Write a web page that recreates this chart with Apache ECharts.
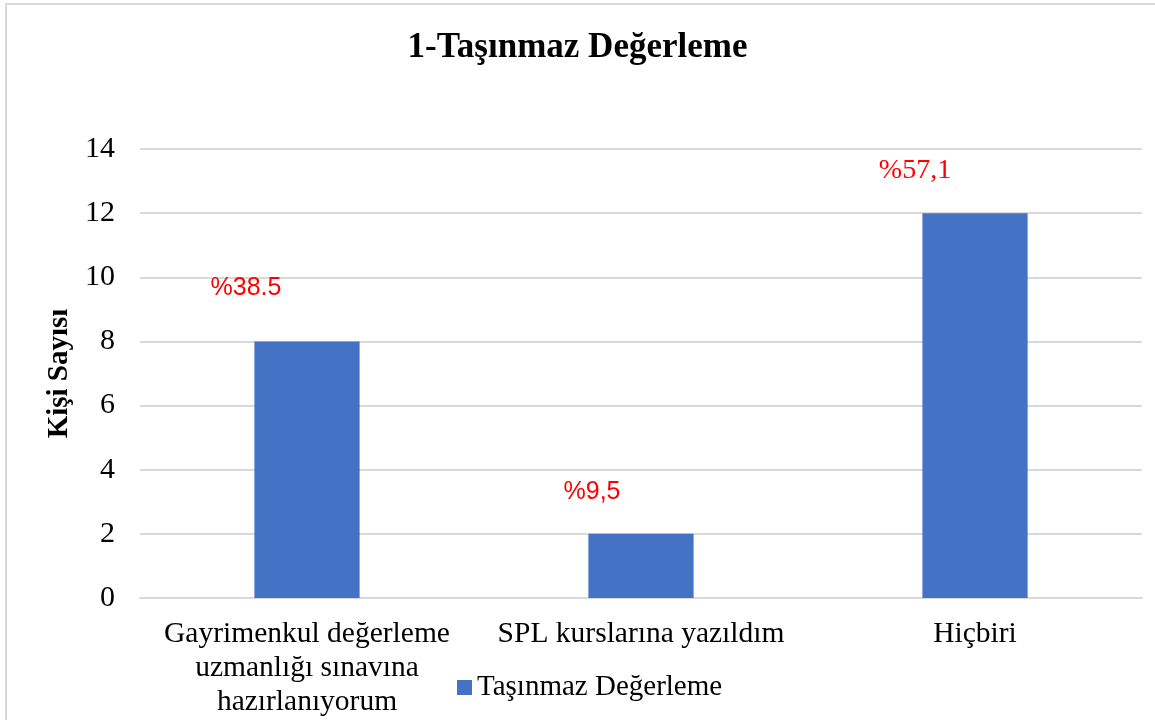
<!DOCTYPE html>
<html>
<head>
<meta charset="utf-8">
<script src="https://cdn.jsdelivr.net/npm/echarts@6/dist/echarts.min.js"></script>
<style>
  html, body { margin: 0; padding: 0; background: #fff; }
  #frame { position: absolute; left: 5px; top: 3px; width: 1160px; height: 730px; border-left: 2px solid #d9d9d9; border-top: 2px solid #d9d9d9; box-sizing: border-box; }
  #main { position: absolute; left: 0; top: 0; width: 1155px; height: 720px; }
</style>
</head>
<body>
<div id="frame"></div>
<div id="main"></div>
<script>
const categories = ['Gayrimenkul değerleme\nuzmanlığı sınavına\nhazırlanıyorum', 'SPL kurslarına yazıldım', 'Hiçbiri']
const counts = [8, 2, 12]
const percentLabels = ['%38.5', '%9,5', '%57,1']
const labelStyles = ['s', 's', 't']
const yTicks = [0, 2, 4, 6, 8, 10, 12, 14]

const serif = 'Liberation Serif'
const sans = 'Liberation Sans'

let chart = echarts.init(document.getElementById('main'))

let barData = counts.map((v, i) => ({
    value: v,
    label: {
        offset: i === 0 ? [-61, -36] : (i === 1 ? [-49, -24] : [-60, -24])
    }
}))

let option = {
    animation: false,
    title: {
        text: '1-Taşınmaz Değerleme',
        left: 'center',
        top: 25,
        textStyle: { fontFamily: serif, fontWeight: 'bold', fontSize: 35, color: '#000' }
    },
    grid: { left: 140, right: 13, top: 149, bottom: 122, containLabel: false },
    legend: {
        data: ['Taşınmaz Değerleme'],
        left: 452,
        top: 668,
        icon: 'rect',
        itemWidth: 15,
        itemHeight: 15,
        itemGap: 8,
        textStyle: { fontFamily: serif, fontSize: 29, color: '#000' }
    },
    xAxis: {
        type: 'category',
        data: categories,
        axisLine: { lineStyle: { color: '#d9d9d9', width: 2 } },
        axisTick: { show: false },
        axisLabel: {
            fontFamily: serif, fontSize: 29.5, color: '#000',
            lineHeight: 34, margin: 19, interval: 0
        }
    },
    yAxis: {
        type: 'value',
        min: 0,
        max: yTicks[yTicks.length - 1],
        interval: 2,
        name: 'Kişi Sayısı',
        nameLocation: 'middle',
        nameGap: 64,
        nameTextStyle: { fontFamily: serif, fontWeight: 'bold', fontSize: 29, color: '#000' },
        axisLine: { show: false },
        axisTick: { show: false },
        axisLabel: { fontFamily: serif, fontSize: 30, color: '#000', margin: 25 },
        splitLine: { lineStyle: { color: '#d9d9d9', width: 2 } }
    },
    series: [{
        name: 'Taşınmaz Değerleme',
        type: 'bar',
        data: barData,
        barWidth: '31.5%',
        itemStyle: { color: '#4472c4' },
        label: {
            show: true,
            position: 'top',
            formatter: p => '{' + labelStyles[p.dataIndex] + '|' + percentLabels[p.dataIndex] + '}',
            rich: {
                s: { color: '#ff0000', fontFamily: sans, fontSize: 25 },
                t: { color: '#ff0000', fontFamily: serif, fontSize: 28 }
            }
        }
    }]
}

chart.setOption(option)
</script>
</body>
</html>
